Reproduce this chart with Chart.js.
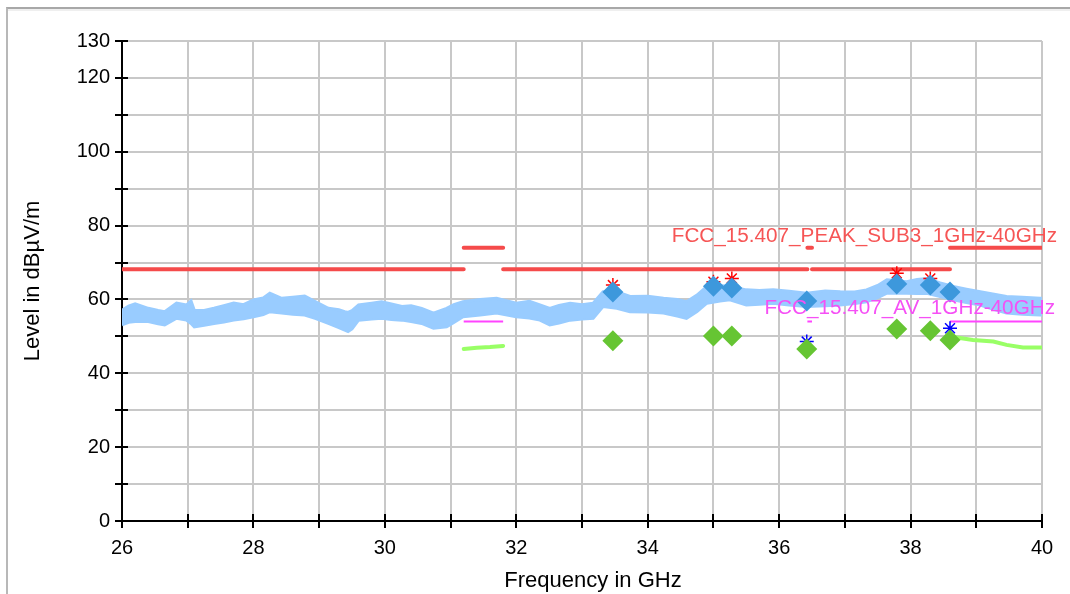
<!DOCTYPE html>
<html>
<head>
<meta charset="utf-8">
<script src="https://cdn.jsdelivr.net/npm/chart.js@4.4.1/dist/chart.umd.min.js"></script>
<style>
html, body { margin: 0; padding: 0; background: #fff; }
#wrap { position: relative; width: 1070px; height: 594px; overflow: hidden; }
#frame { position: absolute; left: 6px; top: 7px; width: 1100px; height: 700px;
  border-top: 2px solid #a8a8a8; border-left: 2px solid #b8b8b8; box-shadow: inset 0 2px 0 #efefef; }
canvas { position: absolute; left: 0; top: 0; }
</style>
</head>
<body>
<div id="wrap">
  <div id="frame"></div>
  <canvas id="emi" width="1070" height="594"></canvas>
</div>
<script>
// peak trace, read as an envelope (top / bottom of the noisy band)
var traceFreq = [26.0, 26.1, 26.2, 26.4, 26.55, 26.65, 26.83, 26.98, 27.05, 27.1, 27.25, 27.4, 27.55, 27.7, 27.85,
  28.0, 28.15, 28.25, 28.43, 28.6, 28.78, 28.94, 29.14, 29.3, 29.39, 29.44, 29.5, 29.6, 29.8, 29.95, 30.1,
  30.26, 30.4, 30.56, 30.74, 30.94, 31.05, 31.19, 31.45, 31.7, 32.0, 32.2, 32.36, 32.51, 32.65, 32.82,
  33.0, 33.17, 33.32, 33.53, 33.73, 34.0, 34.24, 34.45, 34.59, 34.75, 34.9, 35.1, 35.25, 35.5, 35.7,
  35.91, 36.15, 36.42, 36.7, 36.93, 37.15, 37.33, 37.5, 37.64, 37.94, 38.1, 38.25, 38.45, 38.65, 38.85,
  39.06, 39.25, 39.46, 39.7, 39.97, 40.0];
var traceMax = [57.1, 58.2, 58.8, 57.6, 57.0, 56.7, 59.0, 58.5, 59.6, 57.1, 57.0, 57.6, 58.3, 59.0, 58.6,
  59.9, 60.4, 61.7, 60.3, 60.6, 60.9, 59.4, 57.6, 57.2, 56.7, 56.5, 57.0, 58.5, 59.0, 59.4, 58.8,
  58.1, 58.3, 57.6, 56.3, 57.6, 58.6, 59.4, 60.0, 60.3, 59.0, 59.5, 58.5, 57.6, 58.4, 59.0,
  58.6, 59.0, 62.1, 62.1, 60.8, 60.9, 60.3, 60.0, 59.4, 61.2, 63.5, 63.8, 63.5, 62.6, 62.4,
  62.6, 62.2, 61.7, 62.3, 62.1, 62.0, 62.6, 63.8, 65.3, 64.8, 65.4, 65.7, 64.5, 63.5, 62.8,
  62.1, 61.5, 60.8, 60.6, 60.3, 60.3];
var traceMin = [53.1, 53.8, 54.0, 54.0, 53.4, 53.1, 54.9, 54.4, 53.5, 52.6, 53.0, 53.5, 53.9, 54.4, 54.8,
  55.3, 55.9, 56.7, 56.3, 56.0, 55.8, 54.9, 53.5, 52.4, 51.7, 51.3, 52.0, 54.4, 54.7, 54.9, 54.6,
  54.4, 54.0, 53.5, 52.2, 52.6, 53.8, 55.3, 55.8, 56.3, 55.3, 55.0, 54.4, 53.1, 53.6, 54.4,
  54.7, 54.9, 58.1, 57.6, 56.7, 56.6, 56.3, 55.5, 54.9, 56.7, 59.0, 59.6, 59.9, 58.5, 58.7,
  59.0, 58.5, 58.1, 58.3, 58.5, 58.9, 59.4, 60.5, 61.7, 61.7, 61.6, 61.7, 60.8, 59.9, 59.2,
  58.5, 57.4, 56.3, 56.0, 55.8, 55.8];

// average trace, only measured in the restricted bands (null = gap)
var avFreq = [31.2, 31.4, 31.6, 31.8, 34.0, 36.43, 36.5, 37.0, 38.6, 38.7, 38.95, 39.26, 39.46, 39.71, 40.0];
var avLevel = [46.6, 46.9, 47.1, 47.4, null, 46.6, 46.6, null, 50.0, 49.7, 49.0, 48.6, 47.7, 47.0, 47.0];

// limits
var restrictedBands = [[31.2, 31.8], [36.43, 36.5], [38.6, 40]];
var peakLimit = 68.2;
var peakLimitRestricted = 74;
var avLimit = 54;
var peakLabel = 'FCC_15.407_PEAK_SUB3_1GHz-40GHz';
var avLabel = 'FCC_15.407_AV_1GHz-40GHz';
var xTitle = 'Frequency in GHz';
var yTitle = 'Level in dBµV/m';

// final measurement markers
var markerFreq = [33.47, 35.0, 35.28, 36.42, 37.79, 38.30, 38.60];
var markerPeak = [62.0, 63.6, 63.1, 59.6, 64.2, 63.9, 62.0];
var markerAv = [48.8, 50.1, 50.1, 46.6, 52.0, 51.5, 49.0];
var redStarFreq = [33.47, 35.0, 35.28, 37.79, 38.30];
var redStarLevel = [63.9, 64.8, 65.7, 67.1, 65.7];
var blueStarFreq = [36.42, 38.60];
var blueStarLevel = [48.6, 52.2];

var FONT = '"Liberation Sans", Arial, sans-serif';

function xy(fs, ls) {
	var out = [];
	for (var i = 0; i < fs.length; i++) out.push({x: fs[i], y: ls[i]});
	return out;
}

// peak limit: 68.2 outside restricted bands, 74 inside
var peakLimitData = [];
var start = 26;
for (var i = 0; i < restrictedBands.length; i++) {
	var b = restrictedBands[i];
	if (b[0] > start) {
		peakLimitData.push({x: start, y: peakLimit}, {x: b[0], y: peakLimit}, {x: b[0], y: null});
	}
	peakLimitData.push({x: b[0], y: peakLimitRestricted}, {x: b[1], y: peakLimitRestricted}, {x: b[1], y: null});
	start = b[1];
}
if (start < 40) peakLimitData.push({x: start, y: peakLimit}, {x: 40, y: peakLimit});

var avLimitData = [];
for (var i = 0; i < restrictedBands.length; i++) {
	avLimitData.push({x: restrictedBands[i][0], y: avLimit}, {x: restrictedBands[i][1], y: avLimit}, {x: restrictedBands[i][1], y: null});
}

var overlay = {
	id: 'overlay',
	afterDatasetsDraw: function(chart) {
		var ctx = chart.ctx, x = chart.scales.x, y = chart.scales.y;
		ctx.save();
		// tick marks crossing the axes
		ctx.strokeStyle = '#000';
		ctx.lineWidth = 2;
		ctx.beginPath();
		y.ticks.forEach(function(t) {
			var p = Math.round(y.getPixelForValue(t.value));
			ctx.moveTo(x.left - 7, p); ctx.lineTo(x.left + 6, p);
		});
		x.ticks.forEach(function(t) {
			var p = Math.round(x.getPixelForValue(t.value));
			ctx.moveTo(p, y.bottom - 7); ctx.lineTo(p, y.bottom + 7);
		});
		ctx.stroke();
		// limit labels
		ctx.font = '20.7px ' + FONT;
		ctx.textAlign = 'right';
		ctx.textBaseline = 'middle';
		ctx.fillStyle = '#f65555';
		ctx.fillText(peakLabel, x.right + 15, y.getPixelForValue(peakLimitRestricted) - 11);
		ctx.fillStyle = '#f550f5';
		ctx.fillText(avLabel, x.right + 13, y.getPixelForValue(avLimit) - 13);
		// x axis title
		ctx.font = '22px ' + FONT;
		ctx.textAlign = 'center';
		ctx.fillStyle = '#000';
		ctx.fillText(xTitle, (x.left + x.right) / 2 + 11, y.bottom + 60);
		ctx.restore();
	}
};

var ctx = document.getElementById('emi');
var chart = new Chart(ctx, {
	type: 'line',
	data: {
		datasets: [
			{ label: 'peak markers', data: xy(markerFreq, markerPeak), showLine: false, order: 0,
				pointStyle: 'rectRot', pointRadius: 10.5, pointBorderWidth: 0, pointBackgroundColor: '#3d98dc' },
			{ label: 'av markers', data: xy(markerFreq, markerAv), showLine: false, order: 1,
				pointStyle: 'rectRot', pointRadius: 10.5, pointBorderWidth: 0, pointBackgroundColor: '#66c533' },
			{ label: 'red stars', data: xy(redStarFreq, redStarLevel), showLine: false, order: 2,
				pointStyle: 'star', pointRadius: 7, pointBorderWidth: 1.5, pointBorderColor: '#ff0000' },
			{ label: 'blue stars', data: xy(blueStarFreq, blueStarLevel), showLine: false, order: 3,
				pointStyle: 'star', pointRadius: 7, pointBorderWidth: 1.5, pointBorderColor: '#0000ff' },
			{ label: 'peak limit', data: peakLimitData, order: 4, borderColor: '#f54b4b', borderWidth: 4,
				borderCapStyle: 'round', pointRadius: 0, spanGaps: false },
			{ label: 'av limit', data: avLimitData, order: 5, borderColor: '#ff44ff', borderWidth: 2,
				pointRadius: 0, spanGaps: false },
			{ label: 'av trace', data: xy(avFreq, avLevel), order: 6, borderColor: '#99ff66', borderWidth: 4,
				borderCapStyle: 'round', pointRadius: 0, spanGaps: false },
			{ label: 'peak max', data: xy(traceFreq, traceMax), order: 7, borderColor: '#99ccff', borderWidth: 3,
				backgroundColor: '#99ccff', fill: '+1', pointRadius: 0 },
			{ label: 'peak min', data: xy(traceFreq, traceMin), order: 8, borderColor: '#99ccff', borderWidth: 3,
				pointRadius: 0 }
		]
	},
	options: {
		responsive: false,
		animation: false,
		layout: { padding: { left: 0, top: 41, right: 28, bottom: 0 } },
		plugins: { legend: { display: false }, tooltip: { enabled: false } },
		scales: {
			x: {
				type: 'linear', min: 26, max: 40,
				afterFit: function(s) { s.height = 73; },
				grid: { color: '#c8c8c8', lineWidth: 2, drawTicks: false },
				border: { color: '#000', width: 2 },
				ticks: { stepSize: 1, padding: 15, color: '#000', font: { family: FONT, size: 20 },
					maxRotation: 0, autoSkip: false,
					callback: function(v) { return v % 2 === 0 ? v : ''; } },
				title: { display: false }
			},
			y: {
				min: 0, max: 130,
				afterFit: function(s) { s.width = 122; },
				grid: { color: '#c8c8c8', lineWidth: 2, drawTicks: false },
				border: { color: '#000', width: 2 },
				ticks: { stepSize: 10, padding: 12, color: '#000', font: { family: FONT, size: 20 },
					autoSkip: false,
					callback: function(v) { return (v % 20 === 0 || v === 130) ? v : ''; } },
				title: { display: true, text: yTitle, color: '#000', font: { family: FONT, size: 22 },
					padding: { top: 20, bottom: 0 } }
			}
		}
	},
	plugins: [overlay]
});
</script>
</body>
</html>
